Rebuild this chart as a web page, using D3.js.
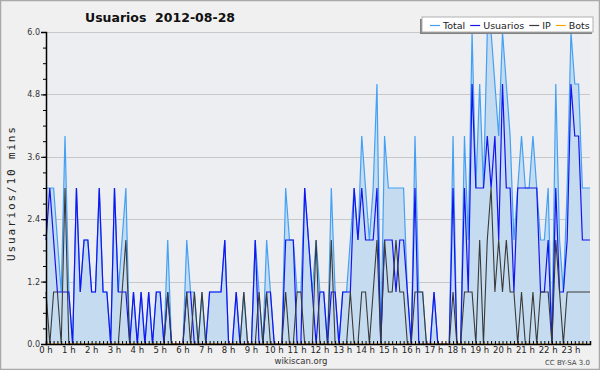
<!DOCTYPE html>
<html>
<head>
<meta charset="utf-8">
<script src="https://cdnjs.cloudflare.com/ajax/libs/d3/7.8.5/d3.min.js"></script>
<style>
  body { margin: 0; background: #f0f0f0; }
  svg { display: block; }
</style>
</head>
<body>
<div id="chart"></div>
<script>
// values per 10 minutes, hour by hour
var usuarios = [
  2,3,2,1,1,1,  1,0,3,1,2,2,  1,1,3,1,1,0,  3,1,1,1,0,1,
  0,1,0,1,0,1,  1,0,1,0,0,0,  0,1,1,0,0,0,  0,1,1,1,1,2,
  0,0,1,0,0,0,  0,2,0,0,1,1,  0,0,0,2,2,2,  0,0,3,2,1,0,
  1,1,0,1,1,0,  1,1,1,3,2,3,  2,2,2,3,0,2,  2,2,1,2,2,1,
  0,3,0,0,0,0,  1,0,0,0,0,3,  0,0,3,1,5,3,  3,3,4,3,4,2,
  5,3,3,1,3,3,  3,3,3,3,1,1,  2,0,3,1,1,2,  5,4,4,2,2,2
];
var ip = [
  1,0,1,1,0,3,  0,0,0,0,0,0,  0,0,0,0,0,0,  0,0,1,2,0,0,
  0,0,0,0,0,0,  0,0,1,0,0,0,  0,1,0,1,0,1,  0,0,0,0,0,0,
  0,0,0,0,1,0,  0,0,1,0,1,0,  0,0,0,1,0,0,  1,1,0,0,0,2,
  0,0,0,2,0,0,  0,0,1,0,0,1,  1,0,1,2,0,2,  1,1,2,1,1,0,
  0,1,1,1,0,0,  0,0,0,0,0,1,  0,0,1,1,1,0,  2,0,2,3,1,2,
  1,2,1,1,0,1,  0,0,1,0,1,1,  1,0,2,1,0,1,  1,1,1,1,1,1
];
var total = [
  3,3,3,2,1,4,  1,0,3,1,2,2,  1,1,3,1,1,0,  3,1,2,3,0,1,
  0,1,0,1,0,1,  1,0,2,0,0,0,  0,2,1,1,0,1,  0,1,1,1,1,2,
  0,0,1,0,1,0,  0,2,1,0,2,1,  0,0,0,3,2,2,  1,1,3,2,1,2,
  1,1,0,3,1,0,  1,1,2,3,2,4,  3,2,3,5,0,4,  3,3,3,3,3,1,
  0,4,1,1,0,0,  1,0,0,0,0,4,  0,0,4,2,6,3,  5,3,6,6,5,4,
  6,5,4,2,3,4,  3,3,4,3,2,2,  3,0,5,2,1,3,  6,5,5,3,3,3
];
var bots = [
  0,0,0,0,0,0,  0,0,0,0,0,0,  0,0,0,0,0,0,  0,0,0,0,0,0,
  0,0,0,0,0,0,  0,0,0,0,0,0,  0,0,0,0,0,0,  0,0,0,0,0,0,
  0,0,0,0,0,0,  0,0,0,0,0,0,  0,0,0,0,0,0,  0,0,0,0,0,0,
  0,0,0,0,0,0,  0,0,0,0,0,0,  0,0,0,0,0,0,  0,0,0,0,0,0,
  0,0,0,0,0,0,  0,0,0,0,0,0,  0,0,0,0,0,0,  0,0,0,0,0,0,
  0,0,0,0,0,0,  0,0,0,0,0,0,  0,0,0,0,0,0,  0,0,0,0,0,0
];
var hours = d3.range(0, 24);
var yTicks = [0, 1.2, 2.4, 3.6, 4.8, 6.0];
var legendNames = ["Total", "Usuarios", "IP", "Bots"];

(function() {
    var W = 600, H = 370;
    var mLeft = 46, mRight = 590, mTop = 32, mBottom = 344;

    var svg = d3.select("#chart").append("svg").attr("width", W).attr("height", H);

    svg.append("rect").attr("x", 0.5).attr("y", 0.5).attr("width", W - 1).attr("height", H - 1)
        .attr("fill", "#f0f0f0").attr("stroke", "#a9a9a9").attr("stroke-width", 1.5);

    var x = d3.scaleLinear().domain([0, total.length - 1]).range([mLeft, mRight]);
    var y = d3.scaleLinear().domain([0, 6]).range([mBottom, mTop]);

    // plot background
    svg.append("rect").attr("x", mLeft).attr("y", mTop).attr("width", mRight - mLeft).attr("height", mBottom - mTop)
        .attr("fill", "#eceef1");

    // grid
    svg.append("g").selectAll("line").data(yTicks.slice(1)).enter().append("line")
        .attr("x1", mLeft).attr("x2", mRight)
        .attr("y1", function(d) { return Math.round(y(d)) + 0.5; })
        .attr("y2", function(d) { return Math.round(y(d)) + 0.5; })
        .attr("stroke", "#c8c8c8").attr("stroke-width", 1);

    // area + lines
    var area = d3.area().x(function(d, i) { return x(i); }).y0(y(0)).y1(function(d) { return y(d); });
    svg.append("path").datum(total).attr("d", area).attr("fill", "#c5dcf0");

    var colors = ["#44a0f4", "#1414f0", "#3a3a3a", "#ffa500"];
    function line(data, color, w) {
        svg.append("path").datum(data)
            .attr("d", d3.line().x(function(d, i) { return x(i); }).y(function(d) { return y(d); }))
            .attr("fill", "none").attr("stroke", color).attr("stroke-width", w);
    }
    line(total, colors[0], 1.2);
    line(usuarios, colors[1], 1.2);
    line(ip, colors[2], 1.1);
    line(bots, colors[3], 1);

    // y axis
    var yAxis = d3.axisLeft(y).tickValues(yTicks).tickSize(5).tickPadding(1)
        .tickFormat(d3.format(".1f"));
    var gy = svg.append("g").attr("transform", "translate(" + mLeft + ",0)").call(yAxis);
    gy.select(".domain").attr("stroke", "#000").attr("stroke-width", 1.5);
    gy.selectAll("text").attr("font-family", "DejaVu Sans").attr("font-size", 8).attr("fill", "#333");
    var gym = svg.append("g").attr("transform", "translate(" + mLeft + ",0)")
        .call(d3.axisLeft(y).tickValues(d3.range(0, 6.01, 0.3)).tickSize(3).tickFormat(""));
    gym.select(".domain").remove();

    // x axis
    var gx = svg.append("g").attr("transform", "translate(0," + mBottom + ")")
        .call(d3.axisTop(x).tickValues(d3.range(0, total.length)).tickSize(3).tickFormat(""));
    gx.select(".domain").attr("stroke", "#000").attr("stroke-width", 1.5);
    svg.append("g").selectAll("text").data(hours).enter().append("text")
        .attr("x", function(d) { return x(d * 6); }).attr("y", 353)
        .attr("text-anchor", "middle").attr("font-family", "DejaVu Sans").attr("font-size", 8.5)
        .attr("fill", "#222")
        .text(function(d) { return d + " h"; });

    // titles
    svg.append("text").attr("x", 85).attr("y", 22).attr("font-family", "DejaVu Sans")
        .attr("font-weight", "bold").attr("font-size", 12.5).attr("fill", "#111")
        .attr("xml:space", "preserve").text("Usuarios  2012-08-28");
    svg.append("text").attr("transform", "translate(15,194) rotate(-90)").attr("text-anchor", "middle")
        .attr("font-family", "DejaVu Sans Mono").attr("font-size", 11).attr("fill", "#222")
        .attr("textLength", 134).attr("lengthAdjust", "spacing").text("Usuarios/10 mins");
    svg.append("text").attr("x", 301).attr("y", 364).attr("text-anchor", "middle")
        .attr("font-family", "DejaVu Sans").attr("font-size", 8.5).attr("fill", "#333").text("wikiscan.org");
    svg.append("text").attr("x", 590).attr("y", 365).attr("text-anchor", "end")
        .attr("font-family", "DejaVu Sans").attr("font-size", 7).attr("fill", "#444").text("CC BY-SA 3.0");

    // legend
    var lg = svg.append("g");
    lg.append("rect").attr("x", 420).attr("y", 19).attr("width", 172).attr("height", 15).attr("fill", "#808080");
    lg.append("rect").attr("x", 422).attr("y", 17).attr("width", 171).attr("height", 15)
        .attr("fill", "#fff").attr("stroke", "#b0b0b0").attr("stroke-width", 1);
    var lx = 426;
    legendNames.forEach(function(name, i) {
        lg.append("line").attr("x1", lx + 4).attr("x2", lx + 14).attr("y1", 25.5).attr("y2", 25.5)
            .attr("stroke", colors[i]).attr("stroke-width", 1.2);
        var t = lg.append("text").attr("x", lx + 17).attr("y", 29).attr("font-family", "DejaVu Sans")
            .attr("font-size", 9.5).attr("fill", "#222").text(name);
        lx += 17 + t.node().getComputedTextLength() + 1;
    });
})();
</script>
</body>
</html>
